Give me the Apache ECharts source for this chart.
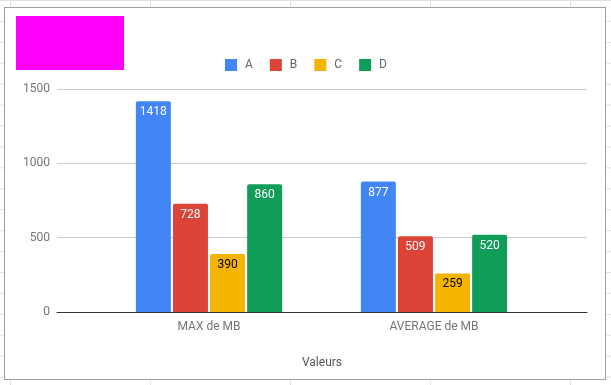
<!DOCTYPE html>
<html>
<head>
<meta charset="utf-8">
<script src="https://cdn.jsdelivr.net/npm/echarts@6/dist/echarts.min.js"></script>
<style>
  html, body { margin: 0; padding: 0; background: #fff; }
  #sheet {
    position: absolute; left: 0; top: 0; width: 611px; height: 385px;
    background-image:
      linear-gradient(to right, #e1e1e1 1px, transparent 1px),
      linear-gradient(to bottom, #e1e1e1 1px, transparent 1px);
    background-size: 140px 20.93px;
    background-position: 10px 20.93px;
  }
  #box {
    position: absolute; left: 4px; top: 7px; width: 602px; height: 373px;
    box-sizing: border-box; border: 1px solid #9e9e9e; background: #fff;
  }
  #chart { position: absolute; left: 0; top: 0; width: 611px; height: 385px; }
</style>
</head>
<body>
<div id="sheet"></div>
<div id="box"></div>
<div id="chart"></div>
<script>
const categories = ['MAX de MB', 'AVERAGE de MB'];
const seriesNames = ['A', 'B', 'C', 'D'];
const valuesA = [1418, 877];
const valuesB = [728, 509];
const valuesC = [390, 259];
const valuesD = [860, 520];
const yTicks = [0, 500, 1000, 1500];
const colors = ['#4285F4', '#DB4437', '#F4B400', '#0F9D58'];
const labelColors = ['#ffffff', '#ffffff', '#000000', '#ffffff'];
const seriesValues = [valuesA, valuesB, valuesC, valuesD];

const font = 'Roboto';
const chart = echarts.init(document.getElementById('chart'), null, { renderer: 'canvas' });

const option = {
  backgroundColor: 'transparent',
  animation: false,
  textStyle: { fontFamily: font },
  graphic: [
    { type: 'rect', shape: { x: 16, y: 16, width: 108, height: 54 }, style: { fill: '#FF00FF' } }
  ],
  legend: {
    left: 225, top: 59, padding: 0,
    icon: 'rect', itemWidth: 12, itemHeight: 12, itemGap: 17,
    textStyle: { color: '#666', fontSize: 12, fontFamily: font, padding: [0, 0, 0, 3] },
    data: seriesNames
  },
  grid: [
    { left: 57, right: 24, top: 89, bottom: 73 },
    { left: 96.5, width: 450, top: 89, bottom: 73 }
  ],
  xAxis: [
    {
      gridIndex: 0, type: 'category', data: [''],
      axisLine: { show: true, lineStyle: { color: '#333', width: 1 } },
      axisTick: { show: false }, axisLabel: { show: false },
      name: 'Valeurs', nameLocation: 'middle', nameGap: 45,
      nameTextStyle: { color: '#555', fontSize: 12, fontFamily: font }
    },
    {
      gridIndex: 1, type: 'category', data: categories,
      axisLine: { show: false }, axisTick: { show: false },
      axisLabel: { color: '#757575', fontSize: 12, fontFamily: font, margin: 9 }
    }
  ],
  yAxis: [
    {
      gridIndex: 0, type: 'value', min: yTicks[0], max: yTicks[yTicks.length - 1], interval: 500,
      axisLine: { show: false }, axisTick: { show: false },
      axisLabel: { color: '#757575', fontSize: 12, fontFamily: font, margin: 7,
        formatter: v => String(v) },
      splitLine: { lineStyle: { color: '#cccccc', width: 1 } }
    },
    {
      gridIndex: 1, type: 'value', min: yTicks[0], max: yTicks[yTicks.length - 1], interval: 500,
      show: false, splitLine: { show: false }
    }
  ],
  series: seriesNames.map((n, i) => ({
    name: n, type: 'bar', xAxisIndex: 1, yAxisIndex: 1,
    data: seriesValues[i],
    barWidth: 35, barGap: '6%',
    itemStyle: { color: colors[i], borderRadius: [2, 2, 0, 0] },
    label: {
      show: true, position: 'insideTop', distance: 5,
      color: labelColors[i], fontSize: 12, fontFamily: font
    }
  }))
};
chart.setOption(option);
</script>
</body>
</html>
